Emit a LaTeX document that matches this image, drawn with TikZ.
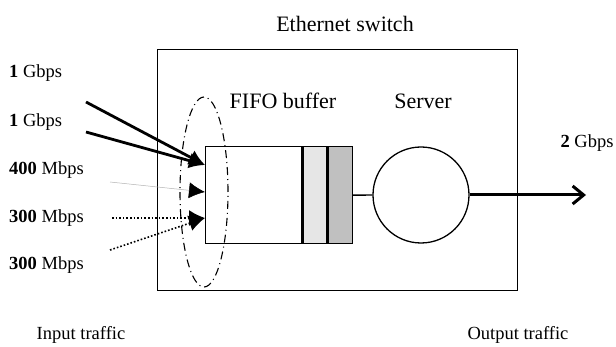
\documentclass[tikz,border=0pt]{standalone}
\usepackage{fontspec}
\setmainfont{Liberation Serif}
\usepackage{tikz}
\usetikzlibrary{positioning, arrows.meta, shapes.geometric}
\definecolor{slotlight}{HTML}{E6E6E6}
\definecolor{slotdark}{HTML}{C0C0C0}

\begin{document}
\begin{tikzpicture}[x=1pt, y=-1pt, font=\fontsize{18.5}{20}\selectfont,
    box/.style={draw, line width=1.3pt, inner sep=0pt},
    biglabel/.style={font=\fontsize{22}{24}\selectfont},
    inarrow/.style={-{Latex[length=16pt, width=16pt, color=black]}},
    ratelabel/.style={anchor=west, inner sep=0pt}]
  \useasboundingbox (0,0) rectangle (616,347);

  % switch and its parts
  \node[box, minimum width=360pt, minimum height=241pt, anchor=north west] (switch) at (157,49) {};
  \node[biglabel] (switchlabel) at (345,24) {Ethernet switch};
  \node[box, minimum width=96pt, minimum height=97pt, anchor=north west] (buf) at (205,146) {};
  \node[box, fill=slotlight, minimum width=24pt, minimum height=97pt, right=0pt of buf] (slotA) {};
  \node[box, fill=slotdark, minimum width=24pt, minimum height=97pt, right=0pt of slotA] (slotB) {};
  \node[box, circle, minimum size=96pt] (server) at (421,195) {};
  \node[biglabel] (buflabel) at (283,101) {FIFO buffer};
  \node[biglabel] (serverlabel) at (423,101) {Server};
  \draw[line width=1.3pt] (slotB) -- (server);

  % the group of inputs
  \node[draw, ellipse, line width=1.1pt, dash pattern=on 8pt off 4pt on 1pt off 4pt,
        minimum width=48pt, minimum height=190pt] (inputs) at (204,192) {};

  % input rates
  \node[ratelabel] (rate1) at (9,73) {\textbf{1} Gbps};
  \node[ratelabel] (rate2) at (9,122) {\textbf{1} Gbps};
  \node[ratelabel] (rate3) at (9,170) {\textbf{400} Mbps};
  \node[ratelabel] (rate4) at (9,218) {\textbf{300} Mbps};
  \node[ratelabel] (rate5) at (9,265) {\textbf{300} Mbps};

  \coordinate (from1) at (86,102);
  \coordinate (from2) at (86,132);
  \coordinate (from3) at (110,182);
  \coordinate (from4) at (112,218);
  \coordinate (from5) at (110,250);
  \coordinate (tipA) at ([yshift=-19pt]buf.north west);
  \coordinate (tipB) at ([yshift=-46pt]buf.north west);
  \coordinate (tipC) at ([yshift=-72pt]buf.north west);

  \draw[inarrow, line width=2.8pt] (from1) -- (tipA);
  \draw[inarrow, line width=2.8pt] (from2) -- (tipA);
  \draw[inarrow, gray!60, line width=0.5pt] (from3) -- (tipB);
  \draw[inarrow, dotted, line width=1.6pt] (from4) -- (tipC);
  \draw[inarrow, dotted, line width=1.6pt] (from5) -- (tipC);

  % output
  \coordinate (outend) at (586,195);
  \draw[line width=3pt, -{Straight Barb[length=11pt, width=18pt]}] (server) -- (outend);
  \node (outrate) at (587,143) {\textbf{2} Gbps};

  \node (inlabel) at (81,335) {Input traffic};
  \node (outlabel) at (518,335) {Output traffic};
\end{tikzpicture}
\end{document}
